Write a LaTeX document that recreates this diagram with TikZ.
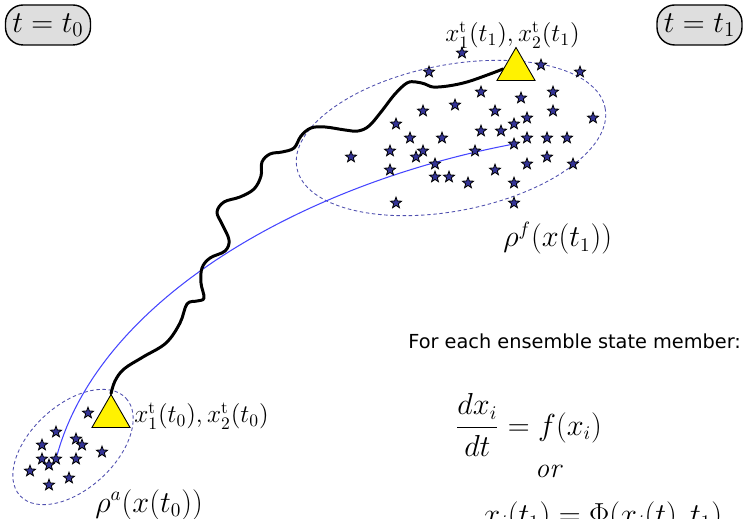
\documentclass[tikz,border=0pt]{standalone}
\usepackage{amsmath,amssymb}
\usepackage{fontspec}
\setsansfont{DejaVu Sans}
\usetikzlibrary{positioning,shapes.geometric,backgrounds,calc}
\definecolor{starblue}{RGB}{52,52,150}
\definecolor{ensdash}{RGB}{80,80,175}
\definecolor{meanblue}{RGB}{70,70,255}
\definecolor{boxgray}{RGB}{222,222,222}

\begin{document}
\begin{tikzpicture}[
  x=0.02cm, y=-0.02cm,
  timebox/.style={draw=black, fill=boxgray, line width=0.8pt, rounded corners=10pt, minimum width=1.7cm, minimum height=0.8cm, inner sep=0pt, font=\fontsize{17.5}{20}\selectfont},
  ensstar/.style={star, star points=5, star point ratio=2.4, draw=black, fill=starblue, line width=0.45pt, minimum size=0.235cm, inner sep=0pt},
  truestate/.style={regular polygon, regular polygon sides=3, draw=black, fill=yellow, line width=0.5pt, minimum size=0.88cm, inner sep=0pt},
  spread/.style={draw=ensdash, dash pattern=on 2pt off 1.5pt, line width=0.5pt},
  truepath/.style={draw=black, line width=1.7pt, line join=round, line cap=round},
  meanpath/.style={draw=meanblue, line width=0.6pt},
  statelbl/.style={font=\fontsize{14}{16}\selectfont, inner sep=0pt},
  handlbl/.style={font=\fontsize{16}{19}\selectfont, inner sep=0pt}
]
  \useasboundingbox (0,0) rectangle (743,519);
  \clip (0,0) rectangle (743,519);

  \node[timebox] (tbox0) at (48,25) {$t=t_0$};
  \node[timebox] (tbox1) at (699.5,25) {$t=t_1$};

  % ensemble members
  \foreach \pos [count=\i] in {(462,53),(429,72),(541,65),(580,72),(481,92),(553,92),(521,98),(455,105),
      (423,111),(495,111),(553,111),(593,118),(527,118),(396,124),(514,124),(481,131),(501,131),
      (410,138),(442,138),(527,138),(547,138),(567,138),(514,144),(390,151),(423,151),(475,151),
      (351,157),(416,157),(547,157),(435,164),(527,164),(573,164),(390,170),(495,170),(435,177),
      (449,177),(468,183),(514,183),(396,203),(514,203)}
    \node[ensstar] (fc\i) at \pos {};
  \foreach \pos [count=\i] in {(88,413),(56,432),(76,439),(42,445),(82,445),(102,452),(42,459),
      (56,459),(76,459),(49,465),(30,471),(69,478),(49,485)}
    \node[ensstar] (an\i) at \pos {};

  \node[truestate] (tri0) at (111,416.5) {};
  \node[truestate] (tri1) at (516,69.5) {};
  \coordinate (trajend) at ($(tri1.corner 1)!0.65!(tri1.corner 2)$);

  \node[statelbl, anchor=base west] (lbl0) at (134,423) {$x_1^{\mathrm{t}}(t_0), x_2^{\mathrm{t}}(t_0)$};
  \node[statelbl, anchor=base] (lbl1) at (512.5,42) {$x_1^{\mathrm{t}}(t_1), x_2^{\mathrm{t}}(t_1)$};
  \node[handlbl, anchor=base west] (rhof) at (503,247) {$\rho^{f}(x(t_1))$};
  \node[handlbl, anchor=base west] (rhoa) at (95,512) {$\rho^{a}(x(t_0))$};

  \node[font=\sffamily\fontsize{11}{13}\selectfont, anchor=base west, inner sep=0pt] (memtxt) at (408,349) {For each ensemble state member:};
  \node[handlbl, anchor=west] (odeeq) at (455,425) {$\dfrac{dx_i}{dt} = f(x_i)$};
  \node[handlbl, anchor=base] (ortxt) at (549,478) {\textit{or}};
  \node[handlbl, anchor=base west] (mapeq) at (483,524) {$x_i(t_1) = \Phi(x_i(t), t_1)$};

  \begin{pgfonlayer}{background}
    \draw[spread, rotate around={11:(451,138)}] (451,138) ellipse [x radius=157, y radius=73];
    \draw[spread, rotate around={42.5:(73,447)}] (73,447) ellipse [x radius=72, y radius=42];
    \draw[meanpath] (an8) .. controls (100,300) and (300,185) .. (fc23);
    \draw[truepath] plot[smooth, tension=0.6] coordinates {(tri0.corner 1) (115,381) (124,369) (143,357)
      (166,343) (180,323) (187,304) (197,301) (204,298) (201,283) (202,268) (210,258) (225,251)
      (229,240) (222,224) (217,212) (224,202) (240,197) (254,189) (261,176) (262,162) (270,154)
      (282,152) (294,148) (301,136) (311,128) (325,127) (345,130) (358,131) (369,126) (381,112)
      (395,94) (407,83) (416,82) (425,84) (433,87) (448,86) (467,82) (490,74) (trajend)};
  \end{pgfonlayer}
\end{tikzpicture}
\end{document}
